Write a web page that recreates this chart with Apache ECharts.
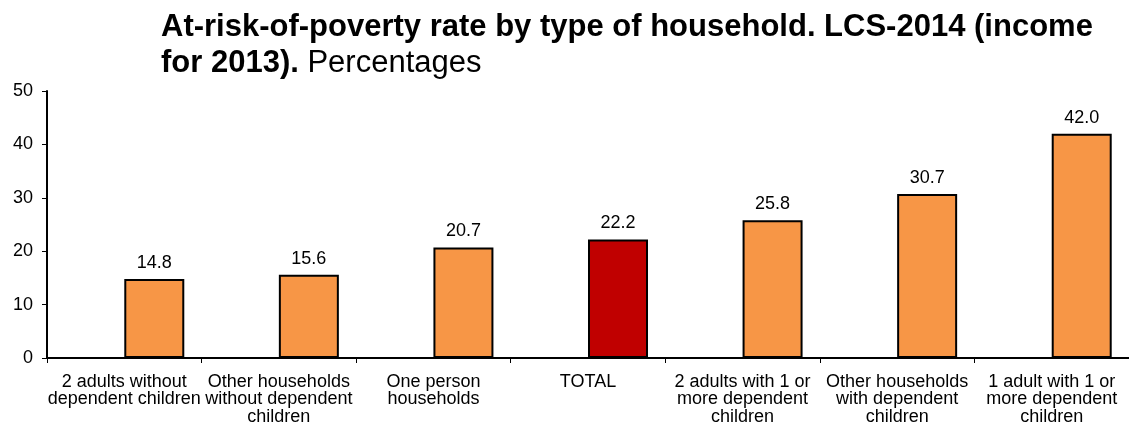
<!DOCTYPE html>
<html>
<head>
<meta charset="utf-8">
<script src="https://cdn.jsdelivr.net/npm/echarts@6/dist/echarts.min.js"></script>
<style>
html,body{margin:0;padding:0;background:#fff;}
#chart{width:1129px;height:430px;}
</style>
</head>
<body>
<div id="chart"></div>
<script>
const categories = [
  '2 adults without\ndependent children',
  'Other households\nwithout dependent\nchildren',
  'One person\nhouseholds',
  'TOTAL',
  '2 adults with 1 or\nmore dependent\nchildren',
  'Other households\nwith dependent\nchildren',
  '1 adult with 1 or\nmore dependent\nchildren'
];
const values = [14.8, 15.6, 20.7, 22.2, 25.8, 30.7, 42.0];
const highlightCategory = 'TOTAL';
const yTicks = { min: 0, max: 50, interval: 10 };

const ORANGE = '#F79646';
const RED = '#C00000';
const FONT = 'Liberation Sans, Arial, sans-serif';

const chart = echarts.init(document.getElementById('chart'), null, {renderer: 'canvas'});
chart.setOption({
  animation: false,
  backgroundColor: '#ffffff',
  title: {
    left: 161,
    top: 9,
    padding: 0,
    text: '{b|At-risk-of-poverty rate by type of household. LCS-2014 (income}\n{b|for 2013). }{n|Percentages}',
    textStyle: {
      fontFamily: FONT,
      rich: {
        b: {fontFamily: FONT, fontSize: 31, fontWeight: 'bold', color: '#000', lineHeight: 36},
        n: {fontFamily: FONT, fontSize: 31, fontWeight: 'normal', color: '#000', lineHeight: 36}
      }
    }
  },
  grid: {left: 47, right: 0, top: 91, bottom: 72, containLabel: false},
  xAxis: {
    type: 'category',
    data: categories,
    axisLine: {lineStyle: {color: '#000', width: 2}},
    axisTick: {show: true, length: 5, lineStyle: {color: '#000', width: 1}},
    axisLabel: {color: '#000', fontFamily: FONT, fontSize: 18, lineHeight: 17.5, margin: 15, interval: 0}
  },
  yAxis: {
    type: 'value',
    min: yTicks.min, max: yTicks.max, interval: yTicks.interval,
    splitLine: {show: false},
    axisLine: {show: true, lineStyle: {color: '#000', width: 2}},
    axisTick: {show: true, length: 5, lineStyle: {color: '#000', width: 1}},
    axisLabel: {color: '#000', fontFamily: FONT, fontSize: 18, margin: 14}
  },
  series: [
    {
      type: 'bar',
      name: 'spacer',
      data: categories.map(() => '-'),
      barWidth: 60,
      barGap: '0%',
      silent: true
    },
    {
      type: 'bar',
      name: 'At-risk-of-poverty rate',
      barWidth: 60,
      barGap: '0%',
      data: values.map((v, i) => ({
        value: v,
        itemStyle: {color: categories[i] === highlightCategory ? RED : ORANGE}
      })),
      itemStyle: {borderColor: '#000', borderWidth: 2},
      label: {
        show: true,
        position: 'top',
        distance: 7,
        color: '#000',
        fontFamily: FONT,
        fontSize: 18,
        formatter: p => p.value.toFixed(1)
      }
    }
  ]
});
</script>
</body>
</html>
